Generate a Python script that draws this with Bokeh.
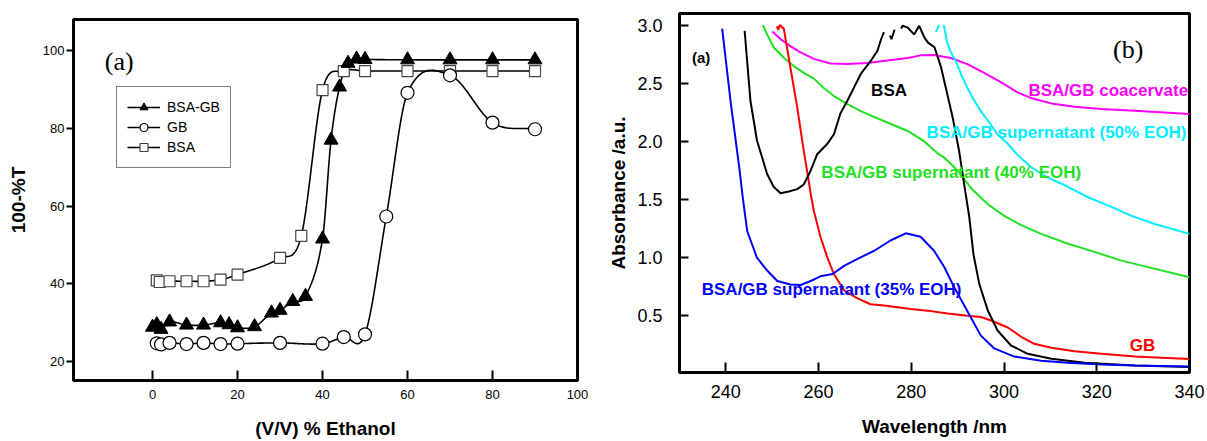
import numpy as np
from bokeh.plotting import figure
from bokeh.layouts import row
from bokeh.models import Range1d, Label, Legend, LegendItem, FixedTicker, NumeralTickFormatter
from bokeh.embed import file_html
from bokeh.resources import INLINE

NaN = float("nan")

# ---------------- Panel (a) data ----------------
bsagb_x = [0, 1, 2, 4, 8, 12, 16, 18, 20, 24, 28, 30, 33, 36, 40, 42, 44, 46, 48, 50, 60, 70, 80, 90]
bsagb_y = [28.75, 29.4, 28.2, 30.1, 29.3, 29.3, 29.9, 29.4, 28.6, 28.9, 32.4, 33.1, 35.4, 36.7,
           51.5, 77.0, 90.7, 96.8, 97.9, 97.8, 97.7, 97.7, 97.7, 97.7]
gb_x = [1, 2, 4, 8, 12, 16, 20, 30, 40, 45, 50, 55, 60, 70, 80, 90]
gb_y = [24.6, 24.3, 24.7, 24.4, 24.7, 24.4, 24.5, 24.7, 24.5, 26.2, 26.9, 57.3, 89.2, 93.7, 81.5, 79.8]
bsa_x = [1, 1.7, 4, 8, 12, 16, 20, 30, 35, 40, 45, 50, 60, 70, 80, 90]
bsa_y = [40.8, 40.4, 40.6, 40.6, 40.6, 41.0, 42.3, 46.6, 52.3, 89.9, 94.8, 94.8, 94.8, 94.8, 94.8, 94.8]
a_xticks = [0, 20, 40, 60, 80, 100]
a_yticks = [20, 40, 60, 80, 100]

# ---------------- Panel (b) data ----------------
s35_x = [239.2, 241.0, 242.97, 243.7, 244.6, 246.7, 248.9, 251.1, 253.9, 256.1, 258.3, 260.4, 263.0,
         265.5, 268.4, 272.0, 275.6, 278.8, 282.0, 284.9, 287.1, 289.2, 292.1, 295.0, 297.9, 302.2,
         308.0, 313.8, 321.0, 328.2, 340.0]
s35_y = [2.97, 2.35, 1.75, 1.50, 1.23, 1.00, 0.89, 0.80, 0.77, 0.765, 0.80, 0.84, 0.86,
         0.93, 0.99, 1.06, 1.15, 1.21, 1.18, 1.06, 0.92, 0.75, 0.54, 0.33, 0.22, 0.15,
         0.115, 0.097, 0.082, 0.073, 0.065]

bsa_wx = [244.05, 245.3, 246.7, 248.9, 250.3, 251.8, 253.6, 255.4, 256.8, 258.3, 259.7, 261.9, 263.3,
          264.7, 266.2, 267.6, 269.1, 271.2, 272.7, 273.4, 274.1, NaN, 275.4, 275.7, 276.4, NaN,
          277.8, 278.1, 279.2, 280.6, 281.7, 282.8, 283.6, 285.0, 286.4, 287.45, 288.9, 290.3,
          291.4, 292.5, 293.4, 294.65, 296.5, 298.6, 301.5, 305.1, 310.2, 317.4, 328.2, 340.0]
bsa_wy = [2.95, 2.35, 2.01, 1.72, 1.61, 1.555, 1.57, 1.59, 1.63, 1.75, 1.89, 1.98, 2.06,
          2.24, 2.35, 2.46, 2.58, 2.69, 2.78, 2.87, 2.94, NaN, 2.91, 2.88, 2.96, NaN,
          2.97, 2.995, 2.98, 2.92, 2.994, 2.894, 2.85, 2.81, 2.64, 2.46, 2.21, 1.92,
          1.63, 1.35, 1.03, 0.775, 0.546, 0.374, 0.245, 0.174, 0.131, 0.097, 0.073, 0.06]

gb_wx = [251.0, 251.3, 251.6, 252.5, 253.9, 255.4, 256.8, 257.5, 258.3, 259.0, 260.4, 261.9, 263.3,
         265.5, 268.4, 271.2, 274.1, 277.0, 279.9, 283.5, 287.8, 292.1, 295.0, 297.2, 300.8,
         303.7, 306.5, 310.2, 315.2, 321.0, 328.2, 340.0]
gb_wy = [2.99, 2.96, 3.0, 2.97, 2.64, 2.29, 1.92, 1.75, 1.55, 1.40, 1.18, 1.00, 0.86,
         0.72, 0.65, 0.60, 0.59, 0.575, 0.56, 0.545, 0.52, 0.50, 0.49, 0.46, 0.40,
         0.32, 0.26, 0.225, 0.195, 0.175, 0.15, 0.13]

s40_x = [248.0, 248.9, 250.3, 252.5, 254.6, 256.8, 259.0, 261.1, 263.3, 266.2, 269.1, 272.0, 275.6,
         279.2, 282.8, 285.6, 287.1, 290.0, 292.85, 296.5, 300.05, 303.7, 308.0, 313.8, 319.5,
         325.3, 328.2, 340.0]
s40_y = [3.0, 2.92, 2.81, 2.72, 2.65, 2.59, 2.54, 2.46, 2.39, 2.32, 2.26, 2.21, 2.15,
         2.09, 2.00, 1.90, 1.86, 1.75, 1.60, 1.46, 1.36, 1.28, 1.205, 1.12, 1.05,
         0.975, 0.947, 0.832]

s50_x = [285.3, 286.0, NaN, 287.0, 287.8, 288.5, 289.6, 290.7, 292.1, 293.6, 295.0, 296.5, 298.6,
         300.8, 303.0, 305.8, 309.4, 313.8, 318.1, 322.4, 327.5, 332.5, 340.0]
s50_y = [2.94, 3.0, NaN, 3.0, 2.84, 2.77, 2.69, 2.58, 2.46, 2.35, 2.26, 2.18, 2.06,
         1.98, 1.88, 1.78, 1.69, 1.61, 1.52, 1.45, 1.36, 1.29, 1.205]

coa_x = [250.0, 251.8, 253.9, 256.1, 259.0, 262.6, 266.2, 270.5, 274.8, 279.2, 282.0, 284.9, 288.5,
         292.1, 295.7, 299.3, 303.0, 306.5, 310.2, 315.2, 321.0, 328.2, 340.0]
coa_y = [2.945, 2.88, 2.82, 2.765, 2.71, 2.67, 2.665, 2.675, 2.695, 2.717, 2.74, 2.743, 2.717,
         2.665, 2.59, 2.51, 2.42, 2.364, 2.327, 2.298, 2.279, 2.264, 2.236]
b_xticks = [240, 260, 280, 300, 320, 340]
b_yticks = [0.5, 1.0, 1.5, 2.0, 2.5, 3.0]

SANS = "Liberation Sans"
SERIF = "Liberation Serif"


def smooth(xs, ys, per=40):
    """Cardinal (Catmull-Rom style) cubic Hermite curve through the data points, for the connecting line."""
    x = np.asarray(xs, float)
    y = np.asarray(ys, float)
    n = len(x)
    m = np.zeros(n)
    m[0] = (y[1] - y[0]) / (x[1] - x[0])
    m[-1] = (y[-1] - y[-2]) / (x[-1] - x[-2])
    for i in range(1, n - 1):
        m[i] = (y[i + 1] - y[i - 1]) / (x[i + 1] - x[i - 1])
    out_x, out_y = [], []
    t = np.linspace(0, 1, per, endpoint=False)
    h00 = 2 * t ** 3 - 3 * t ** 2 + 1
    h10 = t ** 3 - 2 * t ** 2 + t
    h01 = -2 * t ** 3 + 3 * t ** 2
    h11 = t ** 3 - t ** 2
    for i in range(n - 1):
        h = x[i + 1] - x[i]
        out_x.append(x[i] + t * h)
        out_y.append(h00 * y[i] + h10 * h * m[i] + h01 * y[i + 1] + h11 * h * m[i + 1])
    out_x.append(np.array([x[-1]]))
    out_y.append(np.array([y[-1]]))
    return np.concatenate(out_x), np.concatenate(out_y)


def style(p, xticks, yticks, tick_size, title_size):
    p.outline_line_color = "black"
    p.outline_line_width = 3
    p.outline_line_alpha = 1.0
    p.background_fill_color = "white"
    p.border_fill_color = "white"
    p.xgrid.visible = False
    p.ygrid.visible = False
    p.xaxis.ticker = FixedTicker(ticks=xticks)
    p.yaxis.ticker = FixedTicker(ticks=yticks)
    for ax in (p.xaxis[0], p.yaxis[0]):
        ax.axis_line_color = None
        ax.minor_tick_line_color = None
        ax.major_tick_line_color = "black"
        ax.major_tick_line_width = 2
        ax.major_label_text_font = SANS
        ax.major_label_text_font_size = tick_size
        ax.major_label_text_color = "black"
        ax.axis_label_text_font = SANS
        ax.axis_label_text_font_size = title_size
        ax.axis_label_text_font_style = "bold"
        ax.axis_label_text_color = "black"


# ---------------- Panel (a) ----------------
p1 = figure(width=600, height=441, output_backend="svg", toolbar_location=None,
            x_range=Range1d(-18.6, 100), y_range=Range1d(15.0, 108.1),
            min_border_left=73, min_border_right=23, min_border_top=19, min_border_bottom=60)
style(p1, a_xticks, a_yticks, "13px", "19px")
p1.xaxis.axis_label = "(V/V) % Ethanol"
p1.yaxis.axis_label = "100-%T"
p1.xaxis.major_tick_in = 10
p1.xaxis.major_tick_out = 0
p1.xaxis.major_label_standoff = 9
p1.xaxis.axis_label_standoff = 16
p1.yaxis.major_tick_in = 0
p1.yaxis.major_tick_out = 7
p1.yaxis.major_label_standoff = 2
p1.yaxis.axis_label_standoff = 11

sx, sy = smooth(bsa_x, bsa_y)
l_bsa = p1.line(sx, sy, line_color="black", line_width=1.6)
sx, sy = smooth(gb_x, gb_y)
l_gb = p1.line(sx, sy, line_color="black", line_width=1.6)
sx, sy = smooth(bsagb_x, bsagb_y)
l_bg = p1.line(sx, sy, line_color="black", line_width=1.6)

m_bsa = p1.scatter(bsa_x, bsa_y, marker="square", size=11, fill_color="white",
                   line_color="#444444", line_width=1.2)
m_gb = p1.scatter(gb_x, gb_y, marker="circle", size=13, fill_color="white",
                  line_color="black", line_width=1.2)
m_bg = p1.scatter(bsagb_x, bsagb_y, marker="triangle", size=14, fill_color="black",
                  line_color="black", line_width=1)

legend = Legend(items=[LegendItem(label="BSA-GB", renderers=[l_bg, m_bg]),
                       LegendItem(label="GB", renderers=[l_gb, m_gb]),
                       LegendItem(label="BSA", renderers=[l_bsa, m_bsa])],
                location=(43, 212))
legend.border_line_color = "black"
legend.border_line_width = 1
legend.background_fill_color = "white"
legend.background_fill_alpha = 1.0
legend.label_text_font = SANS
legend.label_text_font_size = "14px"
legend.label_text_color = "black"
legend.glyph_width = 33
legend.glyph_height = 20
legend.label_height = 20
legend.label_standoff = 7
legend.spacing = 0
legend.padding = 10
legend.margin = 0
p1.add_layout(legend)

p1.add_layout(Label(x=-11.25, y=97.2, text="(a)", text_font=SERIF, text_font_size="26px",
                    text_color="black", text_baseline="middle", text_align="left"))

# ---------------- Panel (b) ----------------
p2 = figure(width=607, height=441, output_backend="svg", toolbar_location=None,
            x_range=Range1d(230, 340), y_range=Range1d(0.013, 3.1),
            min_border_left=79, min_border_right=18, min_border_top=13, min_border_bottom=69)
style(p2, b_xticks, b_yticks, "18px", "19px")
p2.yaxis.formatter = NumeralTickFormatter(format="0.0")
p2.xaxis.axis_label = "Wavelength /nm"
p2.yaxis.axis_label = "Absorbance /a.u."
p2.xaxis.major_tick_in = 10
p2.xaxis.major_tick_out = 0
p2.xaxis.major_label_standoff = 12
p2.xaxis.axis_label_standoff = 15
p2.yaxis.major_tick_in = 9
p2.yaxis.major_tick_out = 0
p2.yaxis.major_label_standoff = 17
p2.yaxis.axis_label_standoff = 5

GREEN = "#22e022"
CYAN = "#00eeff"
MAGENTA = "#ff00ff"

p2.line(coa_x, coa_y, line_color=MAGENTA, line_width=2)
p2.line(s50_x, s50_y, line_color=CYAN, line_width=2)
p2.line(s40_x, s40_y, line_color=GREEN, line_width=2)
p2.line(gb_wx, gb_wy, line_color="red", line_width=2)
p2.line(bsa_wx, bsa_wy, line_color="black", line_width=2)
p2.line(s35_x, s35_y, line_color="blue", line_width=2)

lab_specs = [
    (232.7, 2.72, "(a)", "black", "15px", "left"),
    (275.2, 2.44, "BSA", "black", "17px", "center"),
    (339.7, 2.44, "BSA/GB coacervate", MAGENTA, "17px", "right"),
    (283.3, 2.078, "BSA/GB supernatant (50% EOH)", CYAN, "17px", "left"),
    (260.6, 1.734, "BSA/GB supernatant (40% EOH)", GREEN, "17px", "left"),
    (234.8, 0.724, "BSA/GB supernatant (35% EOH)", "blue", "17px", "left"),
    (327.1, 0.245, "GB", "red", "17px", "left"),
]
for lx, ly, txt, col, fs, al in lab_specs:
    p2.add_layout(Label(x=lx, y=ly, text=txt, text_font=SANS, text_font_size=fs,
                        text_font_style="bold", text_color=col, text_baseline="middle",
                        text_align=al))
p2.add_layout(Label(x=323.5, y=2.794, text="(b)", text_font=SERIF, text_font_size="26px",
                    text_color="black", text_baseline="middle", text_align="left"))

# keep each panel's frame where the reference has it (no cross-panel frame alignment)
for p in (p1, p2):
    try:
        p.frame_align = False
    except Exception:
        pass

layout = row(p1, p2, spacing=0)
open("out.html", "w").write(file_html(layout, INLINE))
